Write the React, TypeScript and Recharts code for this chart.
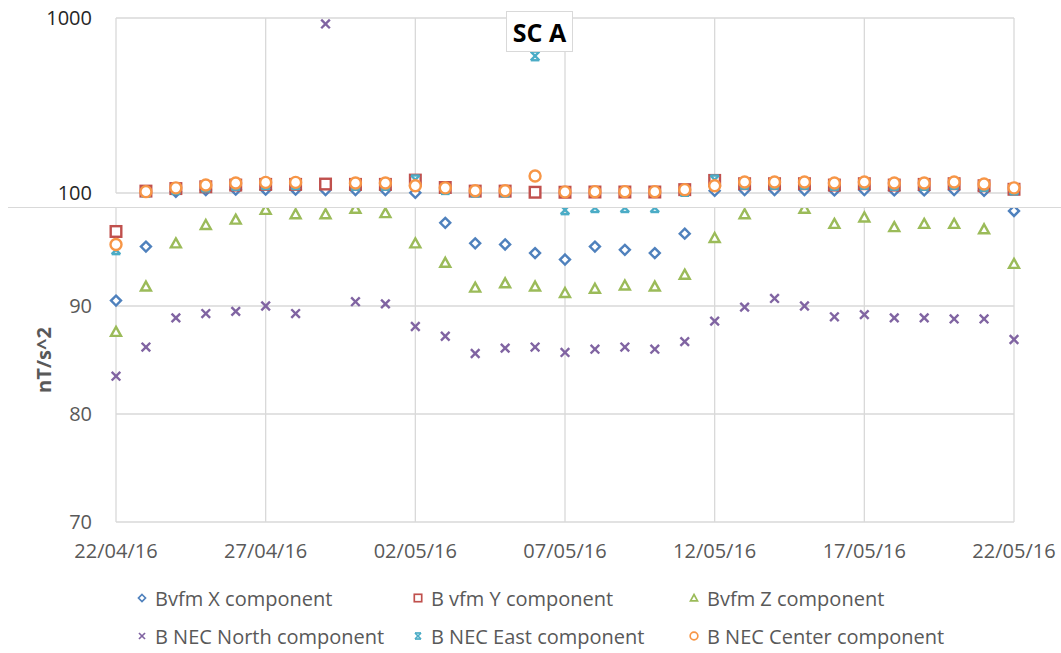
import React from "react";
import { ScatterChart, Scatter, XAxis, YAxis, CartesianGrid, Label } from "recharts";

// days since 22/04/16
const dayOffsets = [0, 1, 2, 3, 4, 5, 6, 7, 8, 9, 10, 11, 12, 13, 14, 15, 16, 17, 18, 19, 20, 21, 22, 23, 24, 25, 26, 27, 28, 29, 30];
const dateTicks = [0, 5, 10, 15, 20, 25, 30];
const dateLabels = ["22/04/16", "27/04/16", "02/05/16", "07/05/16", "12/05/16", "17/05/16", "22/05/16"];

const bvfmX = [90.5, 95.5, 101.5, 104, 104.5, 104.5, 104.5, 104, 104, 104, 100.3, 97.7, 95.8, 95.7, 94.9, 94.3, 95.5, 95.2, 94.9, 96.7, 103, 104, 104, 104, 103.5, 104, 103.5, 103.5, 104, 103, 98.8];
const bvfmY = [96.9, 102.5, 106, 108.5, 111, 112, 112, 112.5, 112, 112, 118.5, 107.5, 102.5, 102.5, 101, 101, 101.3, 101.3, 101.3, 104.5, 118, 113, 113, 113, 111, 113, 111, 112, 113, 110, 105];
const bvfmZ = [87.6, 91.8, 95.8, 97.5, 98.0, 98.9, 98.5, 98.5, 99.0, 98.6, 95.8, 94.0, 91.7, 92.1, 91.8, 91.2, 91.6, 91.9, 91.8, 92.9, 96.3, 98.5, 99.6, 99.0, 97.6, 98.2, 97.3, 97.6, 97.6, 97.1, 93.9];
const necNorth = [83.5, 86.2, 88.9, 89.3, 89.5, 90.0, 89.3, 925, 90.4, 90.2, 88.1, 87.2, 85.6, 86.1, 86.2, 85.7, 86.0, 86.2, 86.0, 86.7, 88.6, 89.9, 90.7, 90.0, 89.0, 89.2, 88.9, 88.9, 88.8, 88.8, 86.9];
const necEast = [95.2, 101, 104.5, 108, 110.5, 111.5, 111.5, null, 110.5, 110.5, 119, 104.5, 101, 101, 607, 98.9, 99.1, 99.1, 99.1, 102, 119, 112, 112, 112, 110.5, 112, 110.5, 110.5, 112, 109, 104];
const necCenter = [95.7, 101.8, 107, 111, 114, 115, 115, null, 114, 114, 110, 107, 103, 103, 125, 101.5, 101.8, 101.8, 101.8, 104.5, 110, 115.6, 115.6, 115.6, 114, 115.6, 114, 114, 115.6, 112.6, 107];

type Kind = "diamond" | "square" | "triangle" | "x" | "star" | "circle";

const series: { name: string; color: string; kind: Kind; values: (number | null)[] }[] = [
  { name: "Bvfm X component", color: "#4F81BD", kind: "diamond", values: bvfmX },
  { name: "B vfm Y component", color: "#C0504D", kind: "square", values: bvfmY },
  { name: "Bvfm Z component", color: "#9BBB59", kind: "triangle", values: bvfmZ },
  { name: "B NEC North component", color: "#8064A2", kind: "x", values: necNorth },
  { name: "B NEC East component", color: "#4BACC6", kind: "star", values: necEast },
  { name: "B NEC Center component", color: "#F79646", kind: "circle", values: necCenter },
];

const GRID = "#d9d9d9";
const FONT = "'Open Sans', 'Noto Sans', sans-serif";

function Marker({ kind, cx, cy, color, s = 1 }: { kind: Kind; cx: number; cy: number; color: string; s?: number }) {
  const sw = 2.4 * s;
  if (kind === "diamond") {
    const r = 5 * s;
    return <path d={`M${cx},${cy - r}L${cx + r},${cy}L${cx},${cy + r}L${cx - r},${cy}Z`} fill="#fff" stroke={color} strokeWidth={sw} />;
  }
  if (kind === "square") {
    const r = 5.3 * s;
    return <rect x={cx - r} y={cy - r} width={2 * r} height={2 * r} fill="#fff" stroke={color} strokeWidth={sw} />;
  }
  if (kind === "triangle") {
    const r = 5 * s;
    return <path d={`M${cx},${cy - r}L${cx + r},${cy + r * 0.8}L${cx - r},${cy + r * 0.8}Z`} fill="#fff" stroke={color} strokeWidth={sw} />;
  }
  if (kind === "circle") {
    return <circle cx={cx} cy={cy} r={5.5 * s} fill="#fff" stroke={color} strokeWidth={sw} />;
  }
  const r = 4.3 * s;
  return (
    <g stroke={color} strokeWidth={sw}>
      <line x1={cx - r} y1={cy - r} x2={cx + r} y2={cy + r} />
      <line x1={cx - r} y1={cy + r} x2={cx + r} y2={cy - r} />
      {kind === "star" && <line x1={cx - r} y1={cy - r} x2={cx + r} y2={cy - r} />}
      {kind === "star" && <line x1={cx - r} y1={cy + r} x2={cx + r} y2={cy + r} />}
    </g>
  );
}

function points(values: (number | null)[], upper: boolean) {
  return dayOffsets
    .map((d, i) => ({ day: d, value: values[i] }))
    .filter((p) => p.value != null && (upper ? p.value >= 100 : p.value < 100));
}

const tickFmt = (v: number) => dateLabels[dateTicks.indexOf(v)] ?? "";

export default function App() {
  return (
    <div style={{ position: "absolute", left: 0, top: 0, width: 1061, height: 653, background: "#fff", fontFamily: FONT }}>
      {/* lower chart, linear 70-100 */}
      <div style={{ position: "absolute", left: 0, top: 0 }}>
        <ScatterChart width={1061} height={653} margin={{ top: 198, right: 47, bottom: 91, left: 0 }}>
          <CartesianGrid stroke={GRID} strokeWidth={1.3} />
          <XAxis
            type="number"
            dataKey="day"
            domain={[0, 30]}
            ticks={dateTicks}
            tickFormatter={tickFmt}
            axisLine={false}
            tickLine={false}
            tickSize={0}
            tickMargin={22}
            height={40}
            tick={{ fill: "#595959", fontSize: 20 }}
            interval={0}
          />
          <YAxis
            type="number"
            dataKey="value"
            domain={[70, 100]}
            ticks={[70, 80, 90]}
            axisLine={false}
            tickLine={false}
            tickSize={0}
            tickMargin={24}
            width={116}
            tick={{ fill: "#595959", fontSize: 20 }}
          >
            <Label
              content={(props: any) => {
                const vb = props.viewBox || { y: 198, height: 324 };
                const cx = 43;
                const cy = vb.y + vb.height / 2;
                return (
                  <text x={cx} y={cy} transform={`rotate(-90 ${cx} ${cy})`} textAnchor="middle" dominantBaseline="central" fill="#595959" fontSize={20} fontWeight="bold">
                    nT/s^2
                  </text>
                );
              }}
            />
          </YAxis>
          {series.map((s) => (
            <Scatter
              key={s.name}
              name={s.name}
              data={points(s.values, false)}
              isAnimationActive={false}
              shape={(p: any) => <Marker kind={s.kind} cx={p.cx} cy={p.cy} color={s.color} />}
            />
          ))}
        </ScatterChart>
      </div>

      {/* upper chart, log 100-1000, laid over the top of the lower one */}
      <div style={{ position: "absolute", left: 0, top: 0, width: 1061, height: 208, background: "#fff", overflow: "hidden" }}>
        <ScatterChart width={1061} height={208} margin={{ top: 18, right: 47, bottom: 15, left: 0 }}>
          <CartesianGrid stroke={GRID} strokeWidth={1.3} />
          <XAxis type="number" dataKey="day" domain={[0, 30]} ticks={dateTicks} hide />
          <YAxis
            type="number"
            dataKey="value"
            scale="log"
            domain={[100, 1000]}
            ticks={[100, 1000]}
            axisLine={false}
            tickLine={false}
            tickSize={0}
            tickMargin={24}
            width={116}
            tick={{ fill: "#262626", fontSize: 20 }}
          />
          {series.map((s) => (
            <Scatter
              key={s.name}
              name={s.name}
              data={points(s.values, true)}
              isAnimationActive={false}
              shape={(p: any) => <Marker kind={s.kind} cx={p.cx} cy={p.cy} color={s.color} />}
            />
          ))}
        </ScatterChart>
      </div>
      <div style={{ position: "absolute", left: 8, top: 207, width: 1053, height: 0, borderTop: `1.5px solid ${GRID}` }} />

      {/* title */}
      <div
        style={{
          position: "absolute",
          left: 506,
          top: 11,
          width: 67,
          height: 41,
          boxSizing: "border-box",
          border: `1px solid ${GRID}`,
          background: "#fff",
          display: "flex",
          alignItems: "center",
          justifyContent: "center",
          fontSize: 25,
          fontWeight: "bold",
          color: "#000",
          whiteSpace: "nowrap",
        }}
      >
        SC A
      </div>

      {/* legend */}
      <div style={{ position: "absolute", left: 135, top: 579, display: "grid", gridTemplateColumns: "276px 276px auto", gridAutoRows: "38px" }}>
        {series.map((s) => (
          <div key={s.name} style={{ display: "flex", alignItems: "center", fontSize: 20, color: "#595959", whiteSpace: "nowrap" }}>
            <svg width={14} height={14} style={{ marginRight: 6, flex: "none" }}>
              <Marker kind={s.kind} cx={7} cy={7} color={s.color} s={0.7} />
            </svg>
            {s.name}
          </div>
        ))}
      </div>
    </div>
  );
}
